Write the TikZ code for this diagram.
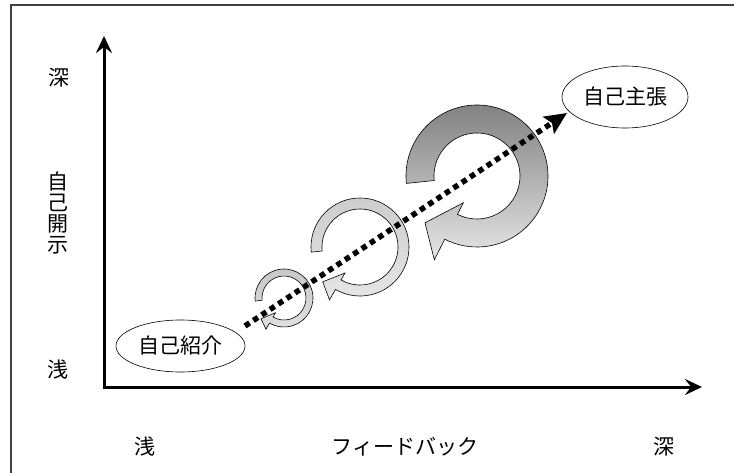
\documentclass[tikz,border=0pt]{standalone}
\usepackage{fontspec}
\newfontfamily\jp{Noto Sans CJK JP}
\usetikzlibrary{arrows.meta,shapes.geometric}
\begin{document}
\begin{tikzpicture}[x=1pt,y=1pt,
  lbl/.style={font=\jp\fontsize{21}{21}\selectfont, inner sep=0pt},
  ell/.style={ellipse, draw=black, line width=0.6pt, fill=white, inner sep=0pt, font=\jp\fontsize{21}{21}\selectfont},
  axis/.style={line width=3pt, -{Stealth[length=17pt,width=16pt,inset=6pt]}},
  ring/.style={draw=black, line width=0.6pt},
  dots/.style={line width=5.5pt, dash pattern=on 5.5pt off 4.5pt, -{Stealth[length=22pt,width=20pt,inset=4pt]}}
]
\useasboundingbox (0,0) rectangle (734,472);
% frame
\draw[black!75, line width=1.5pt] (11,-5) -- (11,467) -- (740,467);
% axes
\coordinate (O) at (104,85);
\coordinate (ytip) at (104,436);
\coordinate (xtip) at (702,85);
\draw[axis] (O) -- (ytip);
\draw[axis] ([xshift=-1.5pt]O) -- (xtip);
% axis labels
\node[lbl] (yd) at (59,394) {深};
\node[lbl, align=center] (yl) at (58,259.5) {自\\己\\開\\示};
\node[lbl] (ys) at (58,102) {浅};
\node[lbl] (xs) at (145,25) {浅};
\node[lbl] (xl) at (405,25) {フィードバック};
\node[lbl] (xd) at (664,25) {深};
% rings
\begin{scope}[shift={(284,174)}]
\shadedraw[ring, top color=black!22, middle color=black!52, bottom color=black!12]
  (186:29) arc[start angle=186,end angle=-120,radius=29] -- (-120:36) -- (-138:31) -- (-120:17) -- (-120:22) arc[start angle=-120,end angle=186,radius=22] -- cycle;
\end{scope}
\begin{scope}[shift={(360,225)}]
\shadedraw[ring, top color=black!20, middle color=black!50, bottom color=black!10]
  (186:49) arc[start angle=186,end angle=-120,radius=49] -- (-120:61) -- (-137:51) -- (-120:30) -- (-120:38) arc[start angle=-120,end angle=186,radius=38] -- cycle;
\end{scope}
\begin{scope}[shift={(477,296)}]
\shadedraw[ring, top color=black!50, middle color=black!58, bottom color=black!10]
  (186:71) arc[start angle=186,end angle=-117,radius=71] -- (-117:94) -- (-138:70) -- (-117:30) -- (-117:43) arc[start angle=-117,end angle=186,radius=43] -- cycle;
\end{scope}
% ellipses
\node[ell, minimum width=129pt, minimum height=52pt] (A) at (180.5,126) {自己紹介};
\node[ell, minimum width=126pt, minimum height=62pt] (B) at (625,375) {自己主張};
% dotted arrow
\coordinate (ds) at (245,146);
\coordinate (de) at (567,359);
\draw[dots] (ds) -- (de);
\end{tikzpicture}
\end{document}
